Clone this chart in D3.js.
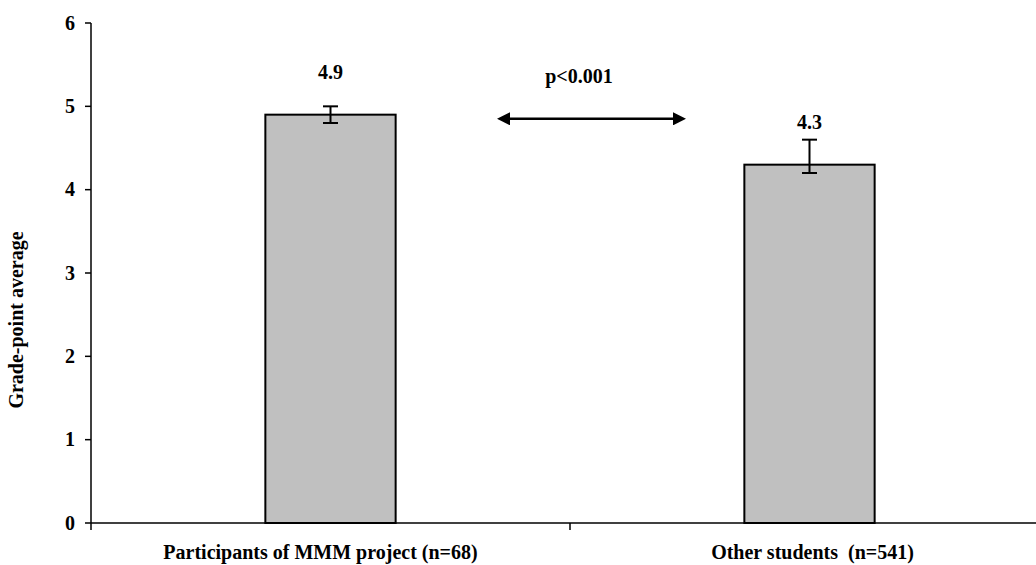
<!DOCTYPE html>
<html>
  <head>
  <title>Grade-point average</title>
  <style>
    body, html {
      margin: 0;
      padding: 0;
      background: #fff;
    }
    text {
      font-family: "Liberation Serif", "Times New Roman", serif;
      font-weight: bold;
    }
  </style>
  </head>
  <body>

  <svg id="svg" width="1036" height="565"></svg>
  <script src="https://d3js.org/d3.v7.min.js"></script>
  <script>
      // data
      const categories = ['Participants of MMM project (n=68)', 'Other students  (n=541)']
      const values = [4.9, 4.3]
      const errUpper = [5.0, 4.6]
      const errLower = [4.8, 4.2]
      const yTicks = [0, 1, 2, 3, 4, 5, 6]
      const pLabel = 'p<0.001'
      const arrowValue = 4.85

      const svg = d3.select('#svg')
      const plotLeft = 91, plotRight = 1049, plotTop = 23, plotBottom = 523

      const x = d3.scaleBand()
          .domain(categories)
          .range([plotLeft, plotRight])
          .padding(0)
      const y = d3.scaleLinear()
          .domain([0, 6])
          .range([plotBottom, plotTop])

      const bw = x.bandwidth()
      const barW = bw * 0.272
      const cx = d => x(d) + bw / 2

      // y axis
      svg.append('line')
          .attr('x1', plotLeft).attr('x2', plotLeft)
          .attr('y1', plotTop).attr('y2', plotBottom + 7)
          .attr('stroke', '#000').attr('stroke-width', 1.5)
      svg.selectAll('.ytick')
          .data(yTicks)
          .join('line')
          .attr('x1', plotLeft - 6).attr('x2', plotLeft)
          .attr('y1', d => y(d)).attr('y2', d => y(d))
          .attr('stroke', '#000').attr('stroke-width', 1.5)
      svg.selectAll('.ylab')
          .data(yTicks)
          .join('text')
          .attr('x', 75)
          .attr('y', d => y(d))
          .attr('dy', '0.34em')
          .attr('text-anchor', 'end')
          .attr('font-size', 20)
          .text(d => d)

      svg.append('text')
          .attr('transform', `translate(23, 320) rotate(-90)`)
          .attr('text-anchor', 'middle')
          .attr('font-size', 20)
          .text('Grade-point average')

      // x axis
      svg.append('line')
          .attr('x1', plotLeft).attr('x2', plotRight)
          .attr('y1', plotBottom).attr('y2', plotBottom)
          .attr('stroke', '#000').attr('stroke-width', 1.5)
      svg.selectAll('.xtick')
          .data(categories.slice(1))
          .join('line')
          .attr('x1', d => x(d)).attr('x2', d => x(d))
          .attr('y1', plotBottom).attr('y2', plotBottom + 7)
          .attr('stroke', '#000').attr('stroke-width', 1.5)
      svg.selectAll('.xlab')
          .data(categories)
          .join('text')
          .attr('x', (d, i) => cx(d) + (i === 0 ? -10 : 3))
          .attr('y', 559)
          .attr('text-anchor', 'middle')
          .attr('font-size', 20)
          .style('white-space', 'pre')
          .text(d => d)

      // bars
      svg.selectAll('.bar')
          .data(categories)
          .join('rect')
          .attr('x', d => cx(d) - barW / 2)
          .attr('width', barW)
          .attr('y', (d, i) => y(values[i]))
          .attr('height', (d, i) => y(0) - y(values[i]))
          .attr('fill', '#c0c0c0')
          .attr('stroke', '#000')
          .attr('stroke-width', 2)

      // error bars
      const eb = svg.selectAll('.err')
          .data(categories)
          .join('g')
      eb.append('line')
          .attr('x1', d => cx(d)).attr('x2', d => cx(d))
          .attr('y1', (d, i) => y(errUpper[i])).attr('y2', (d, i) => y(errLower[i]))
          .attr('stroke', '#000').attr('stroke-width', 2)
      eb.append('line')
          .attr('x1', d => cx(d) - 7.5).attr('x2', d => cx(d) + 7.5)
          .attr('y1', (d, i) => y(errUpper[i])).attr('y2', (d, i) => y(errUpper[i]))
          .attr('stroke', '#000').attr('stroke-width', 2)
      eb.append('line')
          .attr('x1', d => cx(d) - 7.5).attr('x2', d => cx(d) + 7.5)
          .attr('y1', (d, i) => y(errLower[i])).attr('y2', (d, i) => y(errLower[i]))
          .attr('stroke', '#000').attr('stroke-width', 2)

      // value labels
      svg.selectAll('.val')
          .data(categories)
          .join('text')
          .attr('x', d => cx(d))
          .attr('y', (d, i) => y(values[i]) - 36)
          .attr('text-anchor', 'middle')
          .attr('font-size', 20)
          .text((d, i) => d3.format('.1f')(values[i]))

      // significance arrow
      const mid = x(categories[1])
      svg.append('defs').selectAll('marker')
          .data(['start', 'end'])
          .join('marker')
          .attr('id', d => 'arr-' + d)
          .attr('viewBox', '0 0 10 10')
          .attr('refX', 0).attr('refY', 5)
          .attr('markerUnits', 'userSpaceOnUse')
          .attr('markerWidth', 15).attr('markerHeight', 13)
          .attr('orient', d => d === 'start' ? 'auto-start-reverse' : 'auto')
          .append('path')
          .attr('d', 'M0,0 L10,5 L0,10 Z')
          .attr('fill', '#000')
      svg.append('line')
          .attr('x1', mid - 60).attr('x2', mid + 103)
          .attr('y1', y(arrowValue)).attr('y2', y(arrowValue))
          .attr('stroke', '#000').attr('stroke-width', 2.5)
          .attr('marker-start', 'url(#arr-start)')
          .attr('marker-end', 'url(#arr-end)')
      svg.append('text')
          .attr('x', mid + 9)
          .attr('y', 83)
          .attr('text-anchor', 'middle')
          .attr('font-size', 20)
          .text(pLabel)
  </script>
</body>
</html>
